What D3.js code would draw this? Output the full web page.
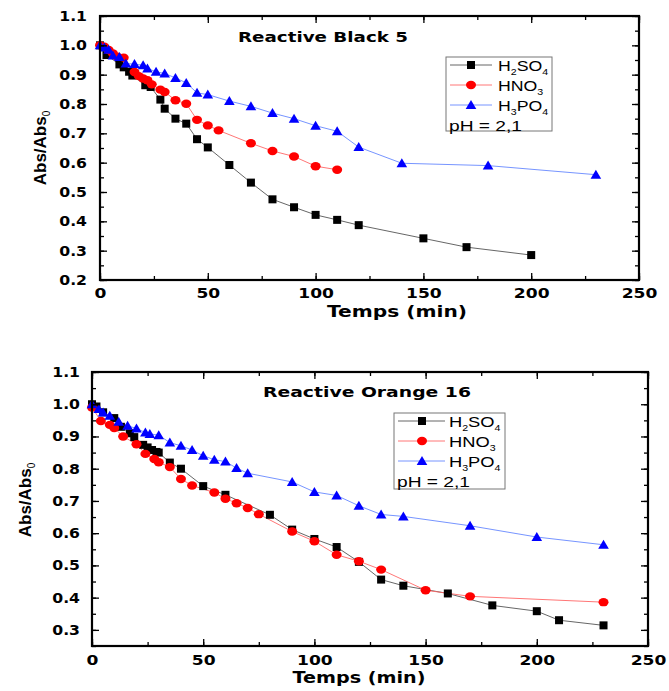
<!DOCTYPE html>
<html><head><meta charset="utf-8">
<script src="https://cdn.jsdelivr.net/npm/d3@7"></script>
<style>body{margin:0;background:#fff}svg{display:block}</style>
</head><body>
<svg id="c" width="669" height="691"></svg>
<script>
// ---- Data: Reactive Black 5 ----
const rb5_h2so4_x = [0,3,9,11,13.5,15,21,23.5,28,30,35,40,45,50,60,70,80,90,100,110,120,150,170,200];
const rb5_h2so4_y = [1.0,0.967,0.935,0.925,0.91,0.897,0.864,0.858,0.815,0.784,0.75,0.733,0.68,0.652,0.592,0.532,0.475,0.448,0.422,0.405,0.387,0.342,0.312,0.285];
const rb5_hno3_x = [0,2,4,6,8,11,16,18,20,22,24,28,30,35,40,45,50,55,70,80,90,100,110];
const rb5_hno3_y = [1.0,0.995,0.984,0.972,0.961,0.958,0.909,0.895,0.887,0.881,0.867,0.849,0.841,0.813,0.801,0.746,0.727,0.71,0.666,0.64,0.621,0.588,0.576];
const rb5_h3po4_x = [0,2,4,6,9,12,16,20,22,26,30,35,40,45,50,60,70,80,90,100,110,120,140,180,230];
const rb5_h3po4_y = [1.0,0.993,0.985,0.965,0.96,0.938,0.936,0.932,0.921,0.91,0.904,0.889,0.872,0.838,0.832,0.81,0.792,0.769,0.75,0.726,0.707,0.653,0.598,0.59,0.559];
// ---- Data: Reactive Orange 16 ----
const ro16_h2so4_x = [0,2,5,10,13,17,19,23,25,27,29,30,35,40,50,60,80,90,100,110,120,130,140,160,180,200,210,230];
const ro16_h2so4_y = [1.0,0.993,0.975,0.957,0.93,0.91,0.898,0.874,0.866,0.858,0.852,0.85,0.819,0.8,0.746,0.719,0.657,0.611,0.582,0.557,0.511,0.456,0.437,0.413,0.376,0.358,0.33,0.314];
const ro16_hno3_x = [0,4,8,10,14,20,24,28,30,35,40,45,55,60,65,70,75,90,100,110,120,130,150,170,230];
const ro16_hno3_y = [0.99,0.948,0.936,0.926,0.9,0.876,0.846,0.83,0.82,0.805,0.768,0.748,0.726,0.707,0.693,0.678,0.659,0.605,0.575,0.533,0.513,0.487,0.423,0.404,0.386];
const ro16_h3po4_x = [0,3,5,8,12,16,20,24,26,30,35,40,45,50,55,60,65,70,90,100,110,120,130,140,170,200,230];
const ro16_h3po4_y = [1.0,0.985,0.974,0.964,0.946,0.933,0.925,0.912,0.908,0.904,0.881,0.871,0.858,0.84,0.828,0.822,0.802,0.786,0.759,0.728,0.717,0.685,0.658,0.652,0.623,0.588,0.564];
// ---- Labels ----
const xTicks = [0,50,100,150,200,250];
const yTicksTop = [0.2,0.3,0.4,0.5,0.6,0.7,0.8,0.9,1.0,1.1];
const yTicksBot = [0.3,0.4,0.5,0.6,0.7,0.8,0.9,1.0,1.1];
const seriesNames = [["H","2","SO","4"],["HNO","3"],["H","3","PO","4"]];
const phLabel = "pH = 2,1";
const xTitle = "Temps (min)";
const titles = ["Reactive Black 5","Reactive Orange 16"];

const colors = ["#000000","#ff0000","#0000ff"];
const lineColors = ["#555555","#ff6666","#6688ff"];
const svg = d3.select("#c");
const FB = "'DejaVu Sans', sans-serif";
const FA = "'Liberation Sans', Arial, sans-serif";

function zip(xs, ys){ return xs.map((x,i)=>[x,ys[i]]); }
function stretch(sel, factor){
  sel.each(function(){ const w = this.getComputedTextLength();
    d3.select(this).attr("textLength", w*factor).attr("lengthAdjust","spacingAndGlyphs"); });
}
function fitTo(sel, width){ sel.attr("textLength", width).attr("lengthAdjust","spacingAndGlyphs"); }

function marker(g, type, x, y, color){
  if(type===0) g.append("rect").attr("x",x-4).attr("y",y-4).attr("width",8).attr("height",8).attr("fill",color);
  else if(type===1) g.append("ellipse").attr("cx",x).attr("cy",y).attr("rx",5).attr("ry",4.2).attr("fill",color);
  else g.append("path").attr("d",`M${x},${y-5}L${x+5.3},${y+4}L${x-5.3},${y+4}Z`).attr("fill",color);
}

function panel(cfg){
  const x = d3.scaleLinear().domain([0,250]).range([cfg.x0,cfg.x1]);
  const y = d3.scaleLinear().domain(cfg.ydom).range([cfg.y1,cfg.y0]);
  const g = svg.append("g");
  cfg.series.forEach((s,i)=>{
    const pts = zip(s[0],s[1]);
    g.append("path").attr("d", d3.line().x(d=>x(d[0])).y(d=>y(d[1]))(pts))
      .attr("fill","none").attr("stroke",lineColors[i]).attr("stroke-width",0.9);
  });
  cfg.series.forEach((s,i)=>{
    zip(s[0],s[1]).forEach(d=>marker(g,i,x(d[0]),y(d[1]),colors[i]));
  });
  const xMinor = d3.range(0,251,25);
  const yMinor = d3.range(Math.round(cfg.ydom[0]*20), Math.round(cfg.ydom[1]*20)+1).map(v=>v/20);
  g.append("g").attr("transform",`translate(0,${cfg.y1})`)
    .call(d3.axisBottom(x).tickValues(xMinor).tickSize(-4).tickFormat(""));
  const bottomMaj = g.append("g").attr("transform",`translate(0,${cfg.y1})`)
    .call(d3.axisBottom(x).tickValues(xTicks).tickSize(-7).tickPadding(0).tickFormat(d3.format("d")));
  g.append("g").attr("transform",`translate(0,${cfg.y0})`)
    .call(d3.axisTop(x).tickValues(xMinor).tickSize(-4).tickFormat(""));
  g.append("g").attr("transform",`translate(0,${cfg.y0})`)
    .call(d3.axisTop(x).tickValues(xTicks).tickSize(-7).tickFormat(""));
  g.append("g").attr("transform",`translate(${cfg.x0},0)`)
    .call(d3.axisLeft(y).tickValues(yMinor).tickSize(-4).tickFormat(""));
  const leftMaj = g.append("g").attr("transform",`translate(${cfg.x0},0)`)
    .call(d3.axisLeft(y).tickValues(cfg.yticks).tickSize(-7).tickPadding(cfg.ypad).tickFormat(d3.format(".1f")));
  g.append("g").attr("transform",`translate(${cfg.x1},0)`)
    .call(d3.axisRight(y).tickValues(yMinor).tickSize(-4).tickFormat(""));
  g.append("g").attr("transform",`translate(${cfg.x1},0)`)
    .call(d3.axisRight(y).tickValues(cfg.yticks).tickSize(-7).tickFormat(""));
  g.selectAll(".domain").remove();
  g.selectAll(".tick line").attr("stroke","#000").attr("stroke-width",1.3);
  g.selectAll(".tick text").attr("font-family",FB).attr("font-weight","bold").attr("font-size",14).attr("fill","#000");
  bottomMaj.selectAll(".tick text").attr("dy",null).attr("y",cfg.xlabBase-cfg.y1);
  stretch(bottomMaj.selectAll(".tick text"),1.22);
  stretch(leftMaj.selectAll(".tick text"),1.12);
  g.append("rect").attr("x",cfg.x0).attr("y",cfg.y0).attr("width",cfg.x1-cfg.x0).attr("height",cfg.y1-cfg.y0)
    .attr("fill","none").attr("stroke","#000").attr("stroke-width",2.2);
  // axis titles
  const xt = g.append("text").attr("x",cfg.xtX).attr("y",cfg.xtY).attr("text-anchor","middle")
    .attr("font-family",FB).attr("font-weight","bold").attr("font-size",15).text(xTitle);
  fitTo(xt, cfg.xtW);
  const yl = g.append("text").attr("transform",`translate(${cfg.ylabx},${cfg.ylaby}) rotate(-90)`)
    .attr("text-anchor","middle").attr("font-family",FA).attr("font-weight","bold").attr("font-size",17);
  yl.append("tspan").text("Abs/Abs");
  yl.append("tspan").attr("dy",4).attr("font-size",10).attr("font-weight","normal").text("0");
  // chart title
  const tt = g.append("text").attr("x",cfg.titleX).attr("y",cfg.titleY).attr("font-family",FB)
    .attr("font-weight","bold").attr("font-size",14).text(cfg.title);
  fitTo(tt, cfg.titleW);
  // legend
  const L = g.append("g").attr("transform",`translate(${cfg.lx},${cfg.ly})`);
  L.append("rect").attr("x",0).attr("y",0).attr("width",cfg.lw).attr("height",cfg.lh)
    .attr("fill","#fff").attr("stroke","#777").attr("stroke-width",1);
  seriesNames.forEach((nm,i)=>{
    const yy = cfg.lrow0 + i*20;
    L.append("line").attr("x1",4).attr("x2",cfg.lline).attr("y1",yy).attr("y2",yy).attr("stroke",lineColors[i]).attr("stroke-width",0.9);
    marker(L,i,cfg.lmark,yy,colors[i]);
    const t = L.append("text").attr("x",cfg.ltext).attr("y",yy+5.5).attr("font-family",FA).attr("font-size",cfg.lfs);
    nm.forEach((part,k)=>{
      if(/^\d$/.test(part)) t.append("tspan").attr("font-size",9).attr("dy",4).text(part);
      else { const ts = t.append("tspan").text(part); if(k>0) ts.attr("dy",-4); }
    });
    stretch(t, 1.18);
  });
  const ph = L.append("text").attr("x",3).attr("y",cfg.lrow0+3*20+5.5).attr("font-family",FA).attr("font-size",cfg.lfs).text(phLabel);
  fitTo(ph, 73);
}

panel({x0:100,x1:639,y0:16,y1:280,ydom:[0.2,1.1],yticks:yTicksTop,ypad:13,ylabx:46,ylaby:148,
  xlabBase:298,xtX:397,xtY:317,xtW:140,
  series:[[rb5_h2so4_x,rb5_h2so4_y],[rb5_hno3_x,rb5_hno3_y],[rb5_h3po4_x,rb5_h3po4_y]],
  title:titles[0],titleX:238,titleY:42,titleW:170,
  lx:446,ly:57,lw:106,lh:74,lrow0:8,lline:46,lmark:25,ltext:52,lfs:15});
panel({x0:92,x1:648,y0:372,y1:646,ydom:[0.25,1.1],yticks:yTicksBot,ypad:12,ylabx:31,ylaby:500,
  xlabBase:665,xtX:359,xtY:683,xtW:133,
  series:[[ro16_h2so4_x,ro16_h2so4_y],[ro16_hno3_x,ro16_hno3_y],[ro16_h3po4_x,ro16_h3po4_y]],
  title:titles[1],titleX:263,titleY:397,titleW:208,
  lx:394,ly:413,lw:111,lh:76,lrow0:8,lline:51,lmark:28,ltext:55,lfs:15.5});
</script>
</body></html>
